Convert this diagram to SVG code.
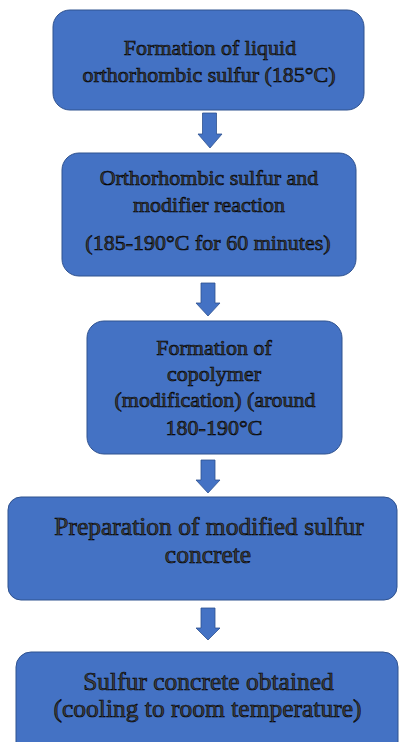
<svg xmlns="http://www.w3.org/2000/svg" width="400" height="742" viewBox="0 0 400 742">
<style>
.box{fill:#4472C4;stroke:#2F528F;stroke-width:1}
.arr{fill:#4472C4;stroke:#2F528F;stroke-width:0.8}
.t{font-family:'Liberation Serif','Times New Roman',serif;font-size:22px;fill:#404040;stroke:#000;stroke-width:0.6;text-anchor:middle}
.t2{font-size:25.5px}
</style>
<rect width="400" height="742" fill="#fff"/>
<g id="connectors">
<path class="arr" d="M202.5,113 H216.5 V134 H222 L210,148 L198,134 H202.5 Z"/>
<path class="arr" d="M201,283 H215 V303 H220 L208,316 L196,303 H201 Z"/>
<path class="arr" d="M201,460 H215 V480 H220 L208,493 L196,480 H201 Z"/>
<path class="arr" d="M201,608 H215 V628 H220 L208,640 L196,628 H201 Z"/>
</g>
<g id="n1">
<rect class="box" x="53" y="10" width="311" height="100" rx="17"/>
<text class="t" x="210" y="55">Formation of liquid</text>
<text class="t" x="209" y="82">orthorhombic sulfur (185°C)</text>
</g>
<g id="n2">
<rect class="box" x="62" y="153" width="294" height="123" rx="17"/>
<text class="t" x="209" y="185">Orthorhombic sulfur and</text>
<text class="t" x="209" y="212">modifier reaction</text>
<text class="t" x="208" y="250">(185-190°C for 60 minutes)</text>
</g>
<g id="n3">
<rect class="box" x="87" y="321" width="255" height="133" rx="17"/>
<text class="t" x="214" y="355">Formation of</text>
<text class="t" x="214" y="381">copolymer</text>
<text class="t" x="215" y="407">(modification) (around</text>
<text class="t" x="214" y="435">180-190°C</text>
</g>
<g id="n4">
<rect class="box" x="8" y="497" width="389" height="103" rx="13"/>
<text class="t t2" x="209" y="535">Preparation of modified sulfur</text>
<text class="t t2" x="208" y="563">concrete</text>
</g>
<g id="n5">
<rect class="box" x="16" y="652" width="382" height="110" rx="15"/>
<text class="t t2" x="208.5" y="690">Sulfur concrete obtained</text>
<text class="t t2" x="207.5" y="717">(cooling to room temperature)</text>
</g>
</svg>
